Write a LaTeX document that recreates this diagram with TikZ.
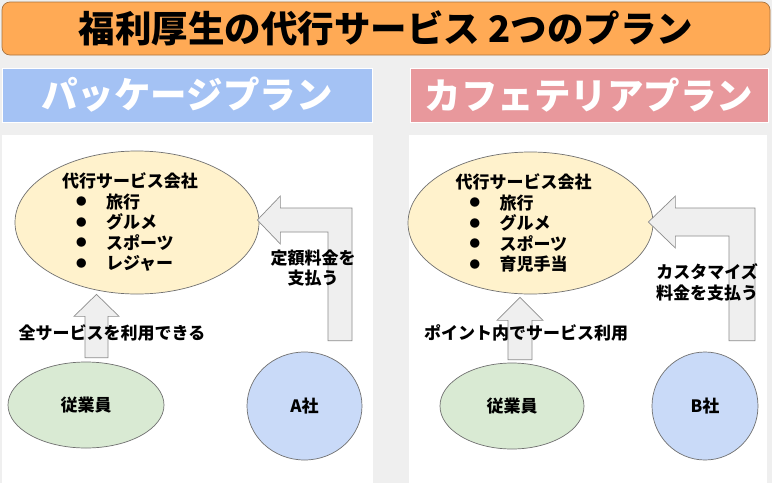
\documentclass[tikz,border=0pt]{standalone}
\usepackage{fontspec}
\setmainfont{Noto Sans CJK JP}
\usetikzlibrary{calc,positioning,shapes.geometric}

\definecolor{bggray}{HTML}{EFEFEF}
\definecolor{titleorange}{HTML}{FFAA55}
\definecolor{titleedge}{HTML}{A8733F}
\definecolor{pkgblue}{HTML}{A4C2F4}
\definecolor{cafepink}{HTML}{E8989C}
\definecolor{compyellow}{HTML}{FFF2CC}
\definecolor{empgreen}{HTML}{D9EAD3}
\definecolor{firmblue}{HTML}{C9DAF8}
\definecolor{edgegray}{HTML}{707070}

\newcommand\bul{\makebox[44pt][l]{\hspace{14pt}\raisebox{2.5pt}{\fontsize{10.5}{12}\selectfont●}}}

\begin{document}
\begin{tikzpicture}[x=1pt,y=-1pt,
	body/.style={font=\fontsize{17}{20.5}\selectfont\bfseries,inner sep=0pt},
	header/.style={draw=white,line width=1pt,text=white,minimum height=54pt,
		font=\fontsize{36.5}{40}\selectfont\bfseries},
	blob/.style={ellipse,draw=edgegray,line width=0.7pt,inner sep=0pt,body},
	blockarr/.style={draw=edgegray!80,fill=bggray,line width=0.7pt,line join=miter}]

		% Background
		\fill[bggray] (0,0) rectangle (772,483);
		\useasboundingbox (0,0) rectangle (772,483);

		% Title
		\node[draw=titleedge,fill=titleorange,rounded corners=8pt,line width=0.7pt,
			minimum width=768pt,minimum height=53pt,
			font=\fontsize{36.5}{40}\selectfont\bfseries] (title) at (386,28.5)
			{福利厚生の代行サービス 2つのプラン};

		% Plan headers
		\node[header,fill=pkgblue,minimum width=370pt] (pkg) at (187,95) {パッケージプラン};
		\node[header,fill=cafepink,minimum width=358pt] (cafe) at (589,95) {カフェテリアプラン};

		% Panels
		\fill[white] (2,135) rectangle (373,483);
		\fill[white] (409,135) rectangle (767,483);

		% Package plan
		\node[blob,fill=compyellow,minimum width=244pt,minimum height=143pt] (compA) at (137,222.5) {};
		\node[body,align=left] (listA) at ([xshift=-7pt]compA.center)
			{代行サービス会社\\\bul 旅行\\\bul グルメ\\\bul スポーツ\\\bul レジャー};
		\node[blob,fill=empgreen,minimum width=156pt,minimum height=86pt] (empA) at (86,405) {従業員};
		\node[blob,fill=firmblue,minimum width=115pt,minimum height=108pt] (coA) at (304.5,406) {A社};

		\coordinate (upA) at ([xshift=10.5pt,yshift=4pt]empA.north);
		\coordinate (tipA) at (upA |- compA.south);
		\draw[blockarr] ($(upA)+(-11.5,0)$) -- ($(tipA)+(-11.5,22)$) -- ($(tipA)+(-22.5,22)$)
			-- (tipA) -- ($(tipA)+(22.5,22)$) -- ($(tipA)+(11.5,22)$) -- ($(upA)+(11.5,0)$) -- cycle;

		\coordinate (payA) at ([xshift=35.5pt,yshift=11pt]coA.north);
		\coordinate (tipPayA) at ([xshift=-2pt,yshift=2.5pt]compA.east);
		\draw[blockarr] ($(payA)+(-12,0)$) -- ($(payA |- tipPayA)+(-12,12)$) -- ($(tipPayA)+(23,12)$)
			-- ($(tipPayA)+(23,24)$) -- (tipPayA) -- ($(tipPayA)+(23,-24)$) -- ($(tipPayA)+(23,-12)$)
			-- ($(payA |- tipPayA)+(12,-12)$) -- ($(payA)+(12,0)$) -- cycle;

		\node[body] (useA) at (112,333) {全サービスを利用できる};
		\node[body,align=center] (feeA) at (313,268) {定額料金を\\支払う};

		% Cafeteria plan
		\node[blob,fill=compyellow,minimum width=245pt,minimum height=142pt] (compB) at (530.5,223) {};
		\node[body,align=left] (listB) at ([xshift=-7pt]compB.center)
			{代行サービス会社\\\bul 旅行\\\bul グルメ\\\bul スポーツ\\\bul 育児手当};
		\node[blob,fill=empgreen,minimum width=144pt,minimum height=86pt] (empB) at (512,406) {従業員};
		\node[blob,fill=firmblue,minimum width=106pt,minimum height=108pt] (coB) at (705,406) {B社};

		\coordinate (upB) at ([xshift=8pt,yshift=3pt]empB.north);
		\coordinate (tipB) at ($(upB |- compB.south)+(0,3)$);
		\draw[blockarr] ($(upB)+(-12,0)$) -- ($(tipB)+(-12,23)$) -- ($(tipB)+(-23,23)$)
			-- (tipB) -- ($(tipB)+(23,23)$) -- ($(tipB)+(12,23)$) -- ($(upB)+(12,0)$) -- cycle;

		\coordinate (payB) at ([xshift=37pt,yshift=11pt]coB.north);
		\coordinate (tipPayB) at ([xshift=-5pt,yshift=1pt]compB.east);
		\draw[blockarr] ($(payB)+(-13,0)$) -- ($(payB |- tipPayB)+(-13,14)$) -- ($(tipPayB)+(27,14)$)
			-- ($(tipPayB)+(27,26)$) -- (tipPayB) -- ($(tipPayB)+(27,-26)$) -- ($(tipPayB)+(27,-14)$)
			-- ($(payB |- tipPayB)+(13,-14)$) -- ($(payB)+(13,0)$) -- cycle;

		\node[body] (useB) at (526,333) {ポイント内でサービス利用};
		\node[body,align=center,font=\fontsize{17}{21}\selectfont\bfseries] (feeB) at (707,282.5) {カスタマイズ\\料金を支払う};
	\end{tikzpicture}
\end{document}
